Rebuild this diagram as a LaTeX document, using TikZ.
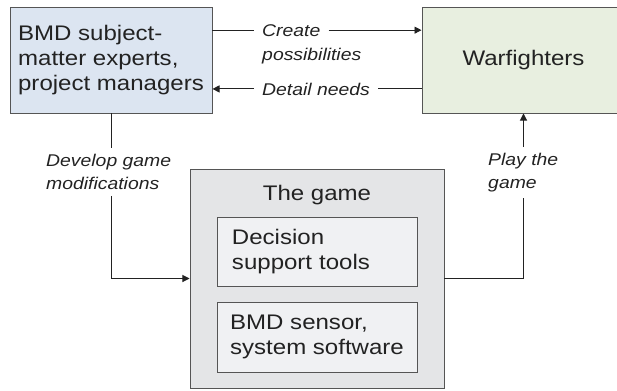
\documentclass[tikz,border=0pt]{standalone}
\usepackage{fontspec}
\setmainfont{Liberation Sans}[FakeStretch=1.14]
\usetikzlibrary{arrows.meta}

\definecolor{bmdblue}{HTML}{DCE5F1}
\definecolor{wfgreen}{HTML}{E8EFE0}
\definecolor{gamegray}{HTML}{E4E5E7}
\definecolor{toolgray}{HTML}{F0F1F3}
\definecolor{edge}{HTML}{555555}
\definecolor{ink}{HTML}{222222}

\tikzset{
  box/.style={draw=edge, line width=0.8pt, text=ink, inner ysep=0pt,
    font=\fontsize{18}{21.3}\selectfont},
  lbl/.style={text=ink, inner xsep=0.24cm, inner ysep=5pt,
    font=\fontsize{14.5}{19.9}\selectfont\itshape},
  link/.style={draw=ink, line width=0.8pt},
  tip/.style={-{Triangle[length=6pt,width=6pt]}}
}

\begin{document}
\begin{tikzpicture}[x=0.03cm, y=-0.03cm]
  \useasboundingbox (0,0) rectangle (617,390);

  \def\xgame{317}
  \def\ytop{60}

  % top row
  \node[box, fill=bmdblue, align=left, inner xsep=0.1cm, minimum width=6.06cm,
        minimum height=3.18cm] (bmd) at (111,\ytop)
        {BMD subject-\\matter experts,\\project managers};
  \node[box, fill=wfgreen, minimum width=6.09cm, minimum height=3.18cm]
        (war) at (523.5,\ytop) {Warfighters};

  % the game and its parts
  \node[box, fill=gamegray, minimum width=7.62cm, minimum height=6.57cm]
        (game) at (\xgame,278.5) {};
  \node[text=ink, font=\fontsize{18}{21.3}\selectfont, anchor=base]
        (title) at (\xgame,200) {The game};
  \node[box, fill=toolgray, align=left, inner xsep=0.45cm, text width=5.1cm,
        minimum height=2.07cm] (tools) at (\xgame,251.5)
        {Decision\\support tools};
  \node[box, fill=toolgray, align=left, inner xsep=0.1cm, minimum width=6cm,
        minimum height=2.1cm] (soft) at (\xgame,337)
        {BMD sensor,\\system software};

  % labels
  \node[lbl, anchor=base west] (create) at (254,36) {Create};
  \node[lbl, anchor=base west] (poss) at (254,60) {possibilities};
  \node[lbl, anchor=base west] (detail) at (254,95) {Detail needs};
  \node[lbl, align=left, anchor=north west] (develop) at (38,148)
        {Develop game\\modifications};
  \node[lbl, align=left, anchor=north west] (play) at (480,147)
        {Play the\\game};

  % connectors
  \draw[link] (bmd.east |- create.west) -- (create.west);
  \draw[link, tip] (create.east) -- (war.west |- create.east);
  \draw[link, tip] (detail.west) -- (bmd.east |- detail.west);
  \draw[link] (war.west |- detail.east) -- (detail.east);

  \draw[link] (bmd.south) -- (bmd.south |- develop.north);
  \draw[link, tip] (bmd.south |- develop.south) |- (game.west);

  \draw[link] (game.east) -| (war.south |- play.south);
  \draw[link, tip] (war.south |- play.north) -- (war.south);
\end{tikzpicture}
\end{document}
